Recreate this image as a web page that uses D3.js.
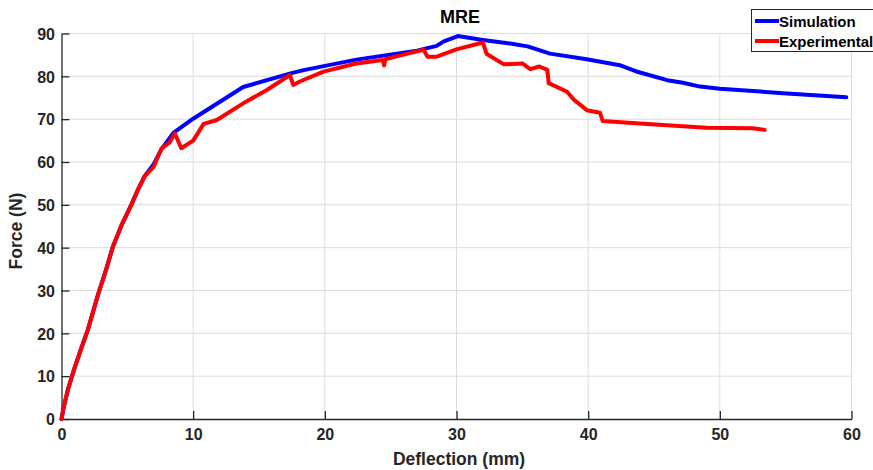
<!DOCTYPE html>
<html>
<head>
<meta charset="utf-8">
<script src="https://cdn.jsdelivr.net/npm/d3@7/dist/d3.min.js"></script>
<style>
  body { margin: 0; background: #fff; }
  svg { font-family: "Liberation Sans", Arial, sans-serif; }
</style>
</head>
<body>
<svg id="chart" width="873" height="470"></svg>
<script>
// series data (deflection mm, force N)
var sim_x = [0, 0.15, 0.5, 1.0, 1.5, 2.0, 2.8, 3.4, 3.9, 4.6, 5.3, 5.8, 6.3, 7.0, 7.6, 8.5, 10.0, 13.8, 17.4, 18.3, 22.4, 27.0, 28.5, 29.0, 30.1, 32.0, 34.2, 35.4, 37.1, 39.9, 42.4, 43.8, 46.0, 47.2, 48.5, 50.0, 55.1, 59.6];
var sim_y = [0, 2.5, 7.0, 12.0, 16.5, 20.8, 29.3, 35.0, 40.2, 45.5, 50.0, 53.5, 56.6, 59.5, 63.0, 66.8, 70.1, 77.5, 80.7, 81.4, 83.9, 86.0, 87.1, 88.1, 89.4, 88.5, 87.6, 87.0, 85.3, 84.0, 82.6, 81.0, 79.1, 78.5, 77.6, 77.1, 76.0, 75.1];

var exp_x = [0, 0.15, 0.5, 1.0, 1.5, 2.0, 2.8, 3.4, 3.9, 4.6, 5.3, 5.8, 6.3, 7.0, 7.6, 8.2, 8.6, 9.1, 10.0, 10.8, 11.8, 13.8, 15.6, 17.35, 17.6, 18.1, 19.9, 22.4, 24.4, 24.5, 24.6, 25.9, 27.5, 27.8, 28.5, 30.0, 32.0, 32.3, 33.6, 35.0, 35.6, 36.3, 36.9, 37.0, 38.4, 38.9, 39.9, 40.9, 41.1, 43.9, 49.0, 52.5, 53.4];
var exp_y = [0, 2.5, 7.0, 12.0, 16.5, 20.8, 29.3, 35.0, 40.2, 45.5, 50.0, 53.5, 56.6, 58.9, 63.2, 64.5, 66.7, 63.2, 65.0, 68.9, 69.8, 73.7, 76.8, 80.3, 78.0, 78.8, 81.1, 83.0, 83.8, 82.6, 84.0, 85.0, 86.2, 84.6, 84.6, 86.3, 87.9, 85.2, 82.8, 83.0, 81.7, 82.3, 81.5, 78.4, 76.4, 74.6, 72.1, 71.5, 69.6, 69.0, 68.0, 67.9, 67.5];

var x_ticks = [0, 10, 20, 30, 40, 50, 60];
var y_ticks = [0, 10, 20, 30, 40, 50, 60, 70, 80, 90];
var series_names = ['Simulation', 'Experimental'];
var series_colors = ['#0000ff', '#ff0000'];

var svg = d3.select('#chart');
var margin = { left: 61.5, right: 21.5, top: 33.5, bottom: 51 };
var width = 873 - margin.left - margin.right;
var height = 470 - margin.top - margin.bottom;

var x = d3.scaleLinear().domain([0, 60]).range([0, width]);
var y = d3.scaleLinear().domain([0, 90]).range([height, 0]);

var g = svg.append('g').attr('transform', 'translate(' + margin.left + ',' + margin.top + ')');

// grid
g.append('g').selectAll('line').data(x_ticks.slice(1)).enter().append('line')
  .attr('x1', function(d) { return x(d); }).attr('x2', function(d) { return x(d); })
  .attr('y1', 0).attr('y2', height)
  .attr('stroke', '#dcdcdc').attr('stroke-width', 1);
g.append('g').selectAll('line').data(y_ticks.slice(1)).enter().append('line')
  .attr('x1', 0).attr('x2', width)
  .attr('y1', function(d) { return y(d); }).attr('y2', function(d) { return y(d); })
  .attr('stroke', '#dcdcdc').attr('stroke-width', 1);

// axes, ticks pointing inward
var xAxis = g.append('g').attr('transform', 'translate(0,' + height + ')')
  .call(d3.axisBottom(x).tickValues(x_ticks).tickSizeInner(-8).tickSizeOuter(0).tickPadding(18));
var yAxis = g.append('g')
  .call(d3.axisLeft(y).tickValues(y_ticks).tickSizeInner(-8).tickSizeOuter(0).tickPadding(14));

[xAxis, yAxis].forEach(function(a) {
  a.select('.domain').attr('stroke', '#262626').attr('stroke-width', 1.3);
  a.selectAll('.tick line').attr('stroke', '#262626').attr('stroke-width', 1.3);
  a.selectAll('.tick text')
    .attr('fill', '#262626')
    .style('font-size', '16px')
    .style('font-weight', 'bold')
    .style('font-family', '"Liberation Sans", Arial, sans-serif');
});
yAxis.selectAll('.tick text').attr('dy', '0.36em').attr('x', -6.5);
xAxis.selectAll('.tick text').attr('y', 10);

// lines
var line = d3.line()
  .x(function(d) { return x(d[0]); })
  .y(function(d) { return y(d[1]); });

var sim_data = sim_x.map(function(v, i) { return [v, sim_y[i]]; });
var exp_data = exp_x.map(function(v, i) { return [v, exp_y[i]]; });

[sim_data, exp_data].forEach(function(d, i) {
  g.append('path').datum(d)
    .attr('d', line)
    .attr('fill', 'none')
    .attr('stroke', series_colors[i])
    .attr('stroke-width', 4)
    .attr('stroke-linejoin', 'round')
    .attr('stroke-linecap', 'round');
});

// title & labels
svg.append('text').attr('x', 460).attr('y', 23)
  .attr('text-anchor', 'middle').attr('fill', '#000')
  .style('font-size', '18px').style('font-weight', 'bold').text('MRE');

svg.append('text').attr('x', 459).attr('y', 465)
  .attr('text-anchor', 'middle').attr('fill', '#262626')
  .style('font-size', '17.5px').style('font-weight', 'bold').text('Deflection (mm)');

svg.append('text')
  .attr('transform', 'translate(22,231) rotate(-90)')
  .attr('text-anchor', 'middle').attr('fill', '#262626')
  .style('font-size', '17.5px').style('font-weight', 'bold').text('Force (N)');

// legend
var legend = svg.append('g');
legend.append('rect').attr('x', 751.5).attr('y', 9.5).attr('width', 130).attr('height', 42)
  .attr('fill', '#fff').attr('stroke', '#262626').attr('stroke-width', 1);
series_names.forEach(function(name, i) {
  var ly = 21 + i * 20;
  legend.append('line').attr('x1', 755).attr('x2', 779).attr('y1', ly).attr('y2', ly)
    .attr('stroke', series_colors[i]).attr('stroke-width', 4);
  legend.append('text').attr('x', 779).attr('y', ly + 5.5)
    .attr('fill', '#000').style('font-size', '15px').style('font-weight', 'bold').text(name);
});
</script>
</body>
</html>
